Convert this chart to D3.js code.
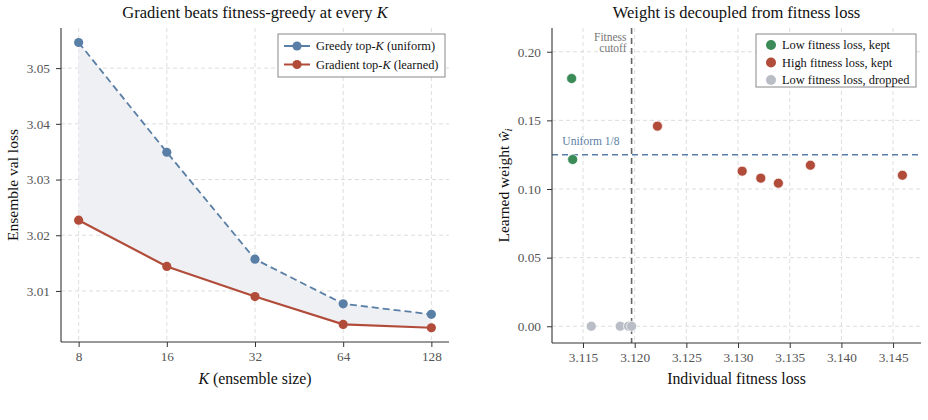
<!DOCTYPE html>
<html>
<head>
<meta charset="utf-8">
<script src="https://cdn.jsdelivr.net/npm/d3@7"></script>
<style>
  body { margin: 0; background: #fff; }
  svg { font-family: "Liberation Serif", "DejaVu Serif", serif; }
</style>
</head>
<body>
<div id="chart"></div>
<script>
// Left panel: ensemble val loss vs K
const kValues = [8, 16, 32, 64, 128];
const greedyLoss = [3.0546, 3.0349, 3.0157, 3.0077, 3.0058];
const gradientLoss = [3.0227, 3.0144, 3.0090, 3.0040, 3.0034];
const lossTicks = [3.01, 3.02, 3.03, 3.04, 3.05];

// Right panel: learned weight vs individual fitness loss
const lowKeptFitness = [3.1139, 3.1140];
const lowKeptWeight = [0.1805, 0.1215];
const highKeptFitness = [3.1222, 3.1304, 3.1322, 3.1339, 3.1370, 3.1459];
const highKeptWeight = [0.1458, 0.1130, 0.1079, 0.1042, 0.1173, 0.1100];
const droppedFitness = [3.1158, 3.1186, 3.1194, 3.1197];
const droppedWeight = [0, 0, 0, 0];
const fitnessCutoff = 3.1197;
const uniformWeight = 1 / 8;
const fitnessTicks = [3.115, 3.120, 3.125, 3.130, 3.135, 3.140, 3.145];
const weightTicks = [0, 0.05, 0.10, 0.15, 0.20];

const blue = "#5a7fa6", red = "#b24c3a", green = "#3a8b57", grey = "#b9bdc5";
const gridColor = "#d9d9d9";

const svg = d3.select("#chart").append("svg")
    .attr("width", 928).attr("height", 420);

function grid(g, x, y, xt, yt, x0, x1, y0, y1) {
  g.selectAll(".vg").data(xt).join("line")
    .attr("x1", d => x(d)).attr("x2", d => x(d)).attr("y1", y0).attr("y2", y1)
    .attr("stroke", gridColor).attr("stroke-width", 0.9).attr("stroke-dasharray", "4,3");
  g.selectAll(".hg").data(yt).join("line")
    .attr("y1", d => y(d)).attr("y2", d => y(d)).attr("x1", x0).attr("x2", x1)
    .attr("stroke", gridColor).attr("stroke-width", 0.9).attr("stroke-dasharray", "4,3");
}

function styleAxis(a) {
  a.select(".domain").attr("stroke", "#333").attr("stroke-width", 1.1);
  a.selectAll(".tick line").attr("stroke", "#333");
  a.selectAll(".tick text").attr("fill", "#555").attr("font-size", 13.3)
    .attr("font-family", "Liberation Serif, serif");
}

// ---------- left panel ----------
{
  const L = 61, R = 449, T = 28, B = 342;
  const x = d3.scaleLog().base(2).domain([8 * Math.pow(2, -0.2), 128 * Math.pow(2, 0.2)]).range([L, R]);
  const y = d3.scaleLinear().domain([3.00084, 3.0572]).range([B, T]);
  const g = svg.append("g");
  grid(g.append("g"), x, y, kValues, lossTicks, L, R, T, B);

  const rows = kValues.map((k, i) => ({k, a: greedyLoss[i], b: gradientLoss[i]}));
  g.append("path").datum(rows)
    .attr("d", d3.area().x(d => x(d.k)).y0(d => y(d.b)).y1(d => y(d.a)))
    .attr("fill", "#eef0f3");

  g.append("path").datum(rows)
    .attr("d", d3.line().x(d => x(d.k)).y(d => y(d.a)))
    .attr("fill", "none").attr("stroke", blue).attr("stroke-width", 1.8)
    .attr("stroke-dasharray", "7,4");
  g.append("path").datum(rows)
    .attr("d", d3.line().x(d => x(d.k)).y(d => y(d.b)))
    .attr("fill", "none").attr("stroke", red).attr("stroke-width", 2.2);
  g.selectAll(".pa").data(rows).join("circle")
    .attr("cx", d => x(d.k)).attr("cy", d => y(d.a)).attr("r", 4.6).attr("fill", blue);
  g.selectAll(".pb").data(rows).join("circle")
    .attr("cx", d => x(d.k)).attr("cy", d => y(d.b)).attr("r", 4.6).attr("fill", red);

  const xa = g.append("g").attr("transform", `translate(0,${B})`)
    .call(d3.axisBottom(x).tickValues(kValues).tickFormat(d3.format("d")).tickSize(5).tickPadding(5));
  xa.select(".domain").attr("d", `M${L},0H${R}`);
  styleAxis(xa);
  const ya = g.append("g").attr("transform", `translate(${L},0)`)
    .call(d3.axisLeft(y).tickValues(lossTicks).tickFormat(d3.format(".2f")).tickSize(5).tickPadding(6));
  ya.select(".domain").attr("d", `M0,${B}V${T}`);
  styleAxis(ya);

  const title = g.append("text").attr("x", (L + R) / 2).attr("y", 18)
    .attr("text-anchor", "middle").attr("font-size", 16.5).attr("fill", "#111");
  title.append("tspan").text("Gradient beats fitness-greedy at every ");
  title.append("tspan").attr("font-style", "italic").text("K");

  const xl = g.append("text").attr("x", (L + R) / 2).attr("y", 384)
    .attr("text-anchor", "middle").attr("font-size", 15.8).attr("fill", "#111");
  xl.append("tspan").attr("font-style", "italic").text("K");
  xl.append("tspan").text(" (ensemble size)");

  g.append("text").attr("transform", `translate(18,${(T + B) / 2}) rotate(-90)`)
    .attr("text-anchor", "middle").attr("font-size", 15.5).attr("fill", "#111")
    .text("Ensemble val loss");

  // legend
  const lg = g.append("g");
  lg.append("rect").attr("x", 278).attr("y", 34).attr("width", 167).attr("height", 43)
    .attr("fill", "#fff").attr("stroke", "#888").attr("stroke-width", 1);
  const items = [
    {c: blue, pre: "Greedy top-", post: " (uniform)"},
    {c: red, pre: "Gradient top-", post: " (learned)"}
  ];
  items.forEach((it, i) => {
    const yy = 46 + i * 18.5;
    lg.append("line").attr("x1", 284).attr("x2", 310).attr("y1", yy).attr("y2", yy)
      .attr("stroke", it.c).attr("stroke-width", 2);
    lg.append("circle").attr("cx", 297).attr("cy", yy).attr("r", 4.6).attr("fill", it.c);
    const t = lg.append("text").attr("x", 316).attr("y", yy + 4.3).attr("font-size", 12.4).attr("fill", "#111");
    t.append("tspan").text(it.pre);
    t.append("tspan").attr("font-style", "italic").text("K");
    t.append("tspan").text(it.post);
  });
}

// ---------- right panel ----------
{
  const L = 552, R = 921, T = 28, B = 343;
  const x = d3.scaleLinear().domain([3.1120, 3.1477]).range([L, R]);
  const y = d3.scaleLinear().domain([-0.0122, 0.2173]).range([B, T]);
  const g = svg.append("g");
  grid(g.append("g"), x, y, fitnessTicks, weightTicks, L, R, T, B);

  g.append("line").attr("x1", L).attr("x2", R)
    .attr("y1", y(uniformWeight)).attr("y2", y(uniformWeight))
    .attr("stroke", blue).attr("stroke-width", 1.5).attr("stroke-dasharray", "6,4");
  g.append("text").attr("x", x(3.1130)).attr("y", y(uniformWeight) - 10)
    .attr("font-size", 11.5).attr("fill", blue).text("Uniform 1/8");

  g.append("line").attr("x1", x(fitnessCutoff)).attr("x2", x(fitnessCutoff))
    .attr("y1", T).attr("y2", B)
    .attr("stroke", "#666").attr("stroke-width", 1.6).attr("stroke-dasharray", "6,4");
  g.append("text").attr("x", x(fitnessCutoff) - 5).attr("y", 41)
    .attr("text-anchor", "end").attr("font-size", 11.5).attr("fill", "#777").text("Fitness");
  g.append("text").attr("x", x(fitnessCutoff) - 5).attr("y", 52)
    .attr("text-anchor", "end").attr("font-size", 11.5).attr("fill", "#777").text("cutoff");

  const groups = [
    {xs: droppedFitness, ys: droppedWeight, c: grey},
    {xs: lowKeptFitness, ys: lowKeptWeight, c: green},
    {xs: highKeptFitness, ys: highKeptWeight, c: red}
  ];
  groups.forEach(gr => {
    g.append("g").selectAll("circle").data(gr.xs.map((v, i) => [v, gr.ys[i]])).join("circle")
      .attr("cx", d => x(d[0])).attr("cy", d => y(d[1])).attr("r", 5)
      .attr("fill", gr.c).attr("stroke", "#fff").attr("stroke-width", 0.7);
  });

  const xa = g.append("g").attr("transform", `translate(0,${B})`)
    .call(d3.axisBottom(x).tickValues(fitnessTicks).tickFormat(d3.format(".3f")).tickSize(5).tickPadding(5));
  xa.select(".domain").attr("d", `M${L},0H${R}`);
  styleAxis(xa);
  const ya = g.append("g").attr("transform", `translate(${L},0)`)
    .call(d3.axisLeft(y).tickValues(weightTicks).tickFormat(d3.format(".2f")).tickSize(5).tickPadding(6));
  ya.select(".domain").attr("d", `M0,${B}V${T}`);
  styleAxis(ya);

  g.append("text").attr("x", (L + R) / 2).attr("y", 18)
    .attr("text-anchor", "middle").attr("font-size", 16.5).attr("fill", "#111")
    .text("Weight is decoupled from fitness loss");

  g.append("text").attr("x", (L + R) / 2).attr("y", 384)
    .attr("text-anchor", "middle").attr("font-size", 15.8).attr("fill", "#111")
    .text("Individual fitness loss");

  const yl = g.append("text").attr("transform", `translate(509,${(T + B) / 2}) rotate(-90)`)
    .attr("text-anchor", "middle").attr("font-size", 15.5).attr("fill", "#111");
  yl.append("tspan").text("Learned weight ");
  yl.append("tspan").attr("font-style", "italic").text("ŵ");
  yl.append("tspan").attr("font-style", "italic").attr("font-size", 11).attr("dy", 3).text("i");

  // legend
  const lg = g.append("g");
  lg.append("rect").attr("x", 756).attr("y", 34).attr("width", 160).attr("height", 53)
    .attr("fill", "#fff").attr("stroke", "#888").attr("stroke-width", 1);
  const items = [
    {c: green, t: "Low fitness loss, kept"},
    {c: red, t: "High fitness loss, kept"},
    {c: grey, t: "Low fitness loss, dropped"}
  ];
  items.forEach((it, i) => {
    const yy = 45 + i * 17.5;
    lg.append("circle").attr("cx", 771).attr("cy", yy).attr("r", 5).attr("fill", it.c);
    lg.append("text").attr("x", 782).attr("y", yy + 4.3).attr("font-size", 12.4).attr("fill", "#111").text(it.t);
  });
}
</script>
</body>
</html>
